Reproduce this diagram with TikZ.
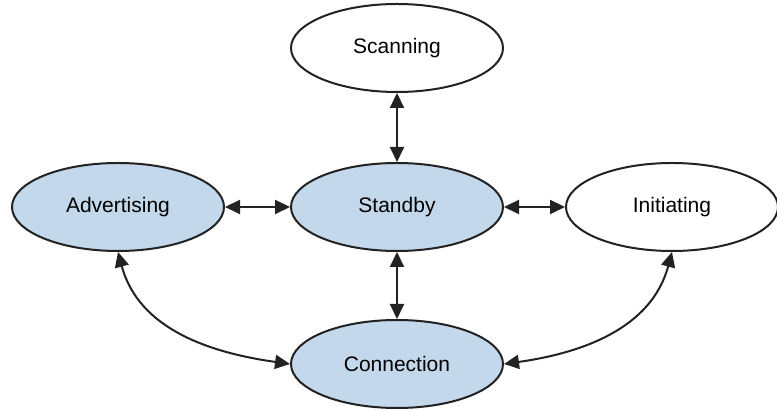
\documentclass[tikz,border=0pt]{standalone}
\usepackage{fontspec}
\setmainfont{Liberation Sans}
\usepackage{xcolor}
\usepackage{tikz}
\usetikzlibrary{arrows.meta,positioning,shapes.geometric}
\definecolor{stateblue}{HTML}{C4D8EB}
\definecolor{edge}{HTML}{222222}
\tikzset{
  state/.style={ellipse, draw=edge, line width=2pt, minimum width=212pt, minimum height=88pt,
    inner sep=0pt, font=\fontsize{21}{25}\selectfont, text=black},
  active/.style={state, fill=stateblue},
  idle/.style={state, fill=white},
  link/.style={draw=edge, line width=2pt, {Triangle[length=15pt,width=14pt]}-{Triangle[length=15pt,width=14pt]}}
}

\begin{document}
\begin{tikzpicture}[x=1pt, y=1pt]
\useasboundingbox (0,0) rectangle (777,411);
% states
\node[idle]   (scan) at (397,363) {Scanning};
\node[active] (adv)  at (118,204) {Advertising};
\node[active] (stby) at (397,204) {Standby};
\node[idle]   (init) at (672,204) {Initiating};
\node[active] (conn) at (397,47)  {Connection};
% transitions
\draw[link] (scan) -- (stby);
\draw[link] (adv) -- (stby);
\draw[link] (stby) -- (init);
\draw[link] (stby) -- (conn);
\draw[link] (adv.south) to[out=-75, in=172] (conn.west);
\draw[link] (init.south) to[out=-105, in=8] (conn.east);
\end{tikzpicture}
\end{document}
